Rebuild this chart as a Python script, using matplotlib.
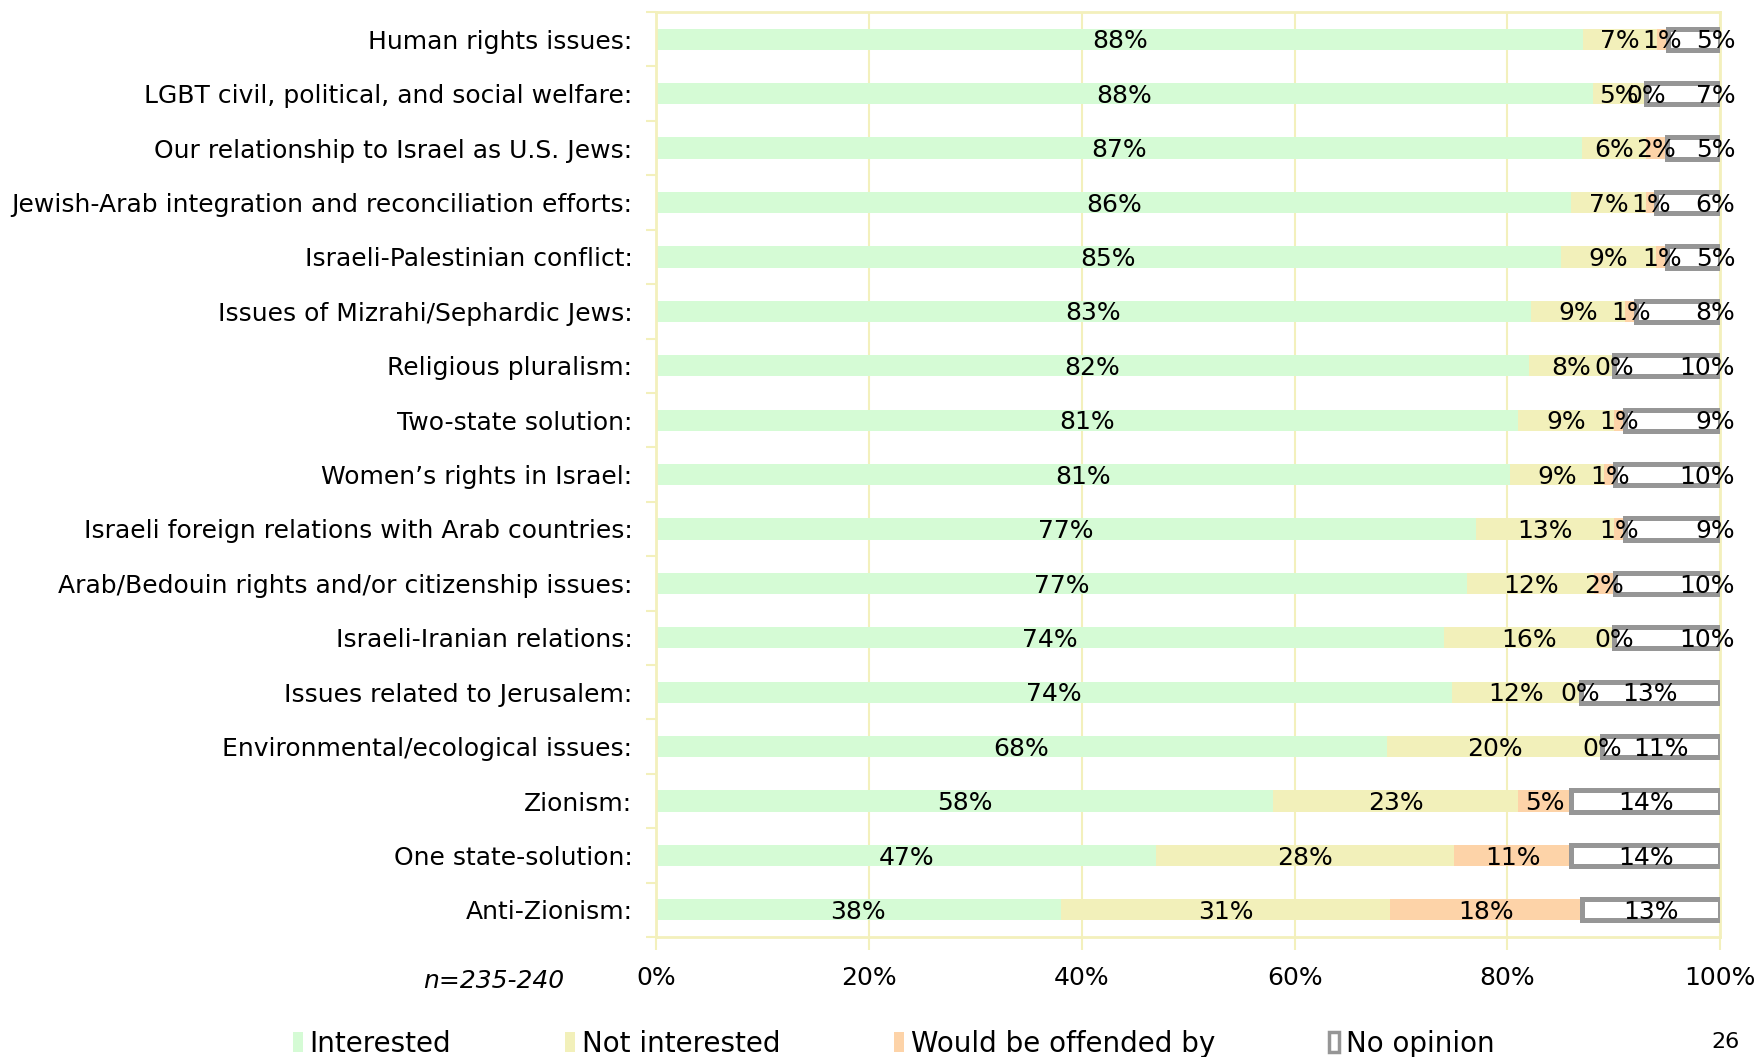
import matplotlib
matplotlib.use("Agg")
import matplotlib.pyplot as plt
from matplotlib.patches import Patch
import numpy as np

# Data (percent labels as shown; bars are drawn as 100% stacked)
categories = [
    "Human rights issues:",
    "LGBT civil, political, and social welfare:",
    "Our relationship to Israel as U.S. Jews:",
    "Jewish-Arab integration and reconciliation efforts:",
    "Israeli-Palestinian conflict:",
    "Issues of Mizrahi/Sephardic Jews:",
    "Religious pluralism:",
    "Two-state solution:",
    "Women\u2019s rights in Israel:",
    "Israeli foreign relations with Arab countries:",
    "Arab/Bedouin rights and/or citizenship issues:",
    "Israeli-Iranian relations:",
    "Issues related to Jerusalem:",
    "Environmental/ecological issues:",
    "Zionism:",
    "One state-solution:",
    "Anti-Zionism:",
]
interested = [88, 88, 87, 86, 85, 83, 82, 81, 81, 77, 77, 74, 74, 68, 58, 47, 38]
not_interested = [7, 5, 6, 7, 9, 9, 8, 9, 9, 13, 12, 16, 12, 20, 23, 28, 31]
offended = [1, 0, 2, 1, 1, 1, 0, 1, 1, 1, 2, 0, 0, 0, 5, 11, 18]
no_opinion = [5, 7, 5, 6, 5, 8, 10, 9, 10, 9, 10, 10, 13, 11, 14, 14, 13]

series_names = ["Interested", "Not interested", "Would be offended by", "No opinion"]
x_ticks = [0, 20, 40, 60, 80, 100]
n_note = "n=235-240"
page_no = "26"

# Styling
GREEN = "#d5fbd5"
YELLOW = "#f2f0ba"
ORANGE = "#fdd3a8"
GRAY = "#969696"
GRID = "#f3f0bc"
FS = 18

plt.rcParams["font.family"] = ["DejaVu Sans"]

fig = plt.figure(figsize=(17.59, 10.57), dpi=100)
ax = fig.add_axes([0.373, 0.1135, 0.605, 0.8751])

data = np.array([interested, not_interested, offended, no_opinion], dtype=float)
totals = data.sum(axis=0)
shares = data / totals * 100
y = np.arange(len(categories))
bar_h = 0.39
lab_dy = 0.04  # labels sit a touch below the bar centre

left = np.zeros(len(categories))
colors = [GREEN, YELLOW, ORANGE]
for k in range(3):
    ax.barh(y, shares[k], left=left, height=bar_h, color=colors[k],
            edgecolor="none", zorder=2)
    for i in range(len(categories)):
        cx = left[i] + shares[k][i] / 2
        ax.text(cx, y[i] + lab_dy, f"{int(data[k][i])}%", ha="center", va="center",
                fontsize=FS, color="black", zorder=5)
    left = left + shares[k]

# No opinion: white box with grey border
ax.barh(y, shares[3], left=left, height=bar_h, color="white",
        edgecolor=GRAY, linewidth=3.6, zorder=3)
for i in range(len(categories)):
    v = data[3][i]
    if v <= 10:
        ax.text(101.4, y[i] + lab_dy, f"{int(v)}%", ha="right", va="center",
                fontsize=FS, color="black", zorder=5, clip_on=False)
    else:
        cx = left[i] + shares[3][i] / 2
        ax.text(cx, y[i] + lab_dy, f"{int(v)}%", ha="center", va="center",
                fontsize=FS, color="black", zorder=5)

ax.set_xlim(0, 100)
ax.set_ylim(len(categories) - 0.5, -0.5)
ax.set_xticks(x_ticks)
ax.set_xticklabels([f"{t}%" for t in x_ticks], fontsize=FS)
ax.set_yticks(y)
ax.set_yticklabels(categories, fontsize=FS)
ax.set_yticks(np.arange(len(categories) + 1) - 0.5, minor=True)

ax.tick_params(axis="y", which="major", length=0, pad=17)
ax.tick_params(axis="y", which="minor", length=7, color=GRID, width=1.5)
ax.tick_params(axis="x", length=9, color=GRID, width=1.5, pad=11.5)

ax.xaxis.grid(True, color=GRID, linewidth=1.5, zorder=0)
ax.set_axisbelow(True)
for s in ax.spines.values():
    s.set_color(GRID)
    s.set_linewidth(2)

fig.text(564 / 1759, 1 - 981 / 1057, n_note, ha="right", va="center",
         fontsize=FS, style="italic")
fig.text(1740 / 1759, 1 - 1042 / 1057, page_no, ha="right", va="center",
         fontsize=16)

handles = [
    Patch(facecolor=GREEN, edgecolor="none"),
    Patch(facecolor=YELLOW, edgecolor="none"),
    Patch(facecolor=ORANGE, edgecolor="none"),
    Patch(facecolor="white", edgecolor=GRAY, linewidth=2.5),
]
fig.legend(handles, series_names, loc="center left",
           bbox_to_anchor=(279 / 1759, 1 - 1044 / 1057), ncol=4,
           frameon=False, fontsize=20, borderpad=0, handlelength=0.35,
           handleheight=0.75, handletextpad=0.25, columnspacing=4.1)

fig.savefig("out.png", dpi=100)
